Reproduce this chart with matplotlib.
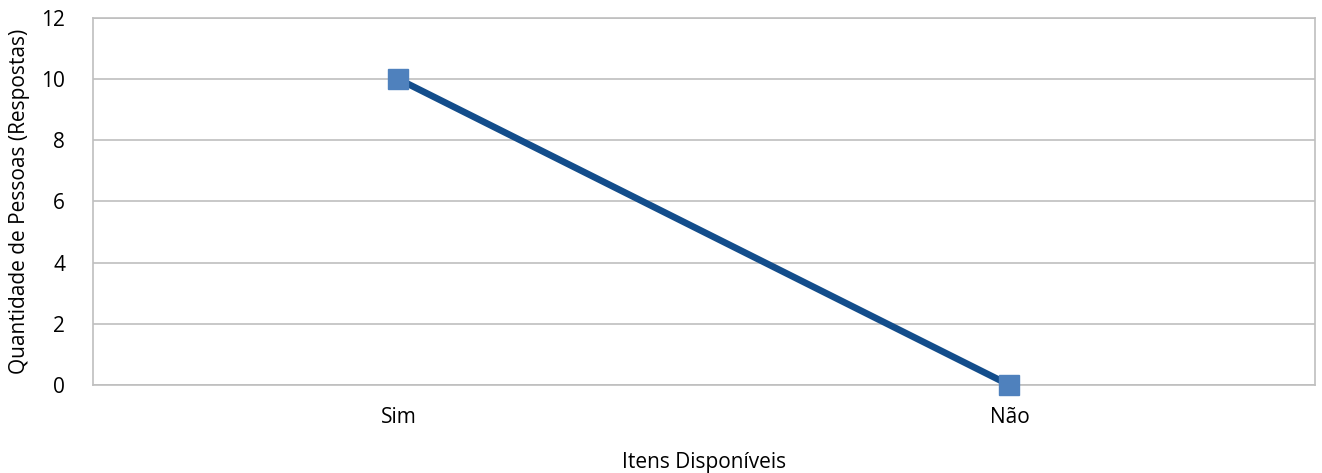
import matplotlib.pyplot as plt

categorias = ["Sim", "Não"]
respostas = [10, 0]
yticks = [0, 2, 4, 6, 8, 10, 12]

plt.rcParams['font.family'] = ['Open Sans', 'DejaVu Sans']

fig = plt.figure(figsize=(13.22, 4.73), dpi=100)
ax = fig.add_axes([0.0703, 0.186, 0.9244, 0.776])

x = range(len(categorias))
ax.plot(x, respostas, color="#134D8B", linewidth=4.8, zorder=3)
ax.plot(x, respostas, linestyle="none", marker="s", markersize=14.5,
        markerfacecolor="#4F81BD", markeredgecolor="#4F81BD", zorder=4, clip_on=False)

ax.set_xlim(-0.5, 1.5)
ax.set_ylim(0, 12)
ax.set_yticks(yticks)
ax.set_xticks(list(x))
ax.set_xticklabels(categorias)
ax.tick_params(axis="both", length=0, labelsize=15)
ax.tick_params(axis="x", pad=16)
ax.tick_params(axis="y", pad=20)
ax.grid(axis="y", color="#BFBFBF", linewidth=1.2)
ax.set_axisbelow(True)
for s in ax.spines.values():
    s.set_color("#BFBFBF")
    s.set_linewidth(1.2)

ax.set_xlabel("Itens Disponíveis", fontsize=15, labelpad=17)
ax.set_ylabel("Quantidade de Pessoas (Respostas)", fontsize=15, labelpad=8)

fig.savefig("out.png", dpi=100)
